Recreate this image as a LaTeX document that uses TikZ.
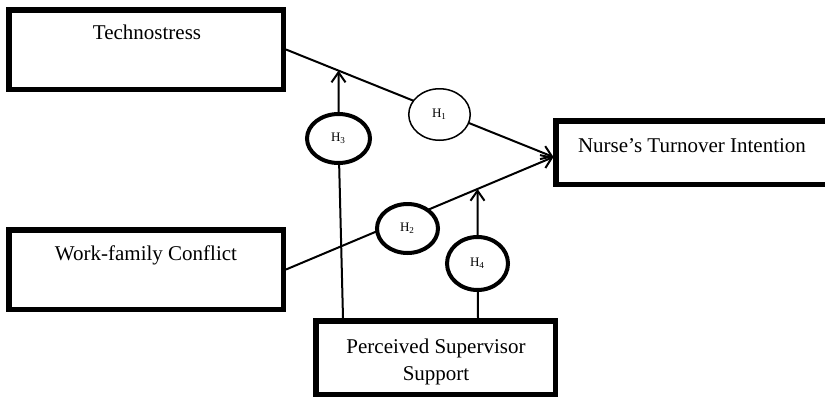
\documentclass[tikz,border=0pt]{standalone}
\usepackage{fontspec}
\setmainfont{Liberation Serif}
\usetikzlibrary{arrows.meta,shapes.geometric,backgrounds}
\begin{document}
\begin{tikzpicture}[x=0.5pt,y=-0.5pt,
  box/.style={draw,line width=2.75pt,rectangle,inner sep=0pt},
  lbl/.style={font=\fontsize{10.5}{13.5}\selectfont, anchor=base, inner sep=0pt},
  hyp/.style={draw,ellipse,fill=white,inner sep=0pt,line width=2pt,font=\fontsize{6.5}{7}\selectfont},
  conn/.style={line width=1pt},
  arr/.style={conn,-{Straight Barb[length=5pt,width=7pt]}}]
\useasboundingbox (0,0) rectangle (825,397);
\clip (0,0) rectangle (825,397);

% boxes
\node[box, minimum width=137.25pt, minimum height=39.75pt] (techno) at (146,49.5) {};
\node[box, minimum width=137.25pt, minimum height=39.75pt] (work) at (146,269.5) {};
\node[box, minimum width=137.25pt, minimum height=31.75pt] (nurse) at (693,152.5) {};
\node[box, minimum width=119.75pt, minimum height=36.75pt] (pss) at (435.5,357.5) {};

% box texts
\node[lbl] (ttech) at (147,39.3) {Technostress};
\node[lbl] (twork) at (146,260.7) {Work-family Conflict};
\node[lbl] (tnurse) at (692,152.7) {Nurse’s Turnover Intention};
\node[lbl] (tpss1) at (436,353) {Perceived Supervisor};
\node[lbl] (tpss2) at (436,380) {Support};

% hypothesis ellipses
\node[hyp, line width=0.75pt, minimum width=30.75pt, minimum height=25.75pt] (H1) at (439.5,114.5) {H\textsubscript{1}};
\node[hyp, minimum width=31.5pt, minimum height=24.5pt] (H3) at (338.5,138.5) {H\textsubscript{3}};
\node[hyp, minimum width=30.5pt, minimum height=24.5pt] (H2) at (407.5,228.5) {H\textsubscript{2}};
\node[hyp, minimum width=30.5pt, minimum height=26.5pt] (H4) at (477.5,263.5) {H\textsubscript{4}};

% helper coordinates
\coordinate (tip) at (553.5,157);
\coordinate (s3) at (343,318);
\coordinate (s4) at (478,318);
\coordinate (m1) at (intersection cs: first line={(techno.east)--(tip)}, second line={(H3.center)--(H3.north)});
\coordinate (m2) at (intersection cs: first line={(work.east)--(tip)}, second line={(H4.center)--(H4.north)});

\begin{scope}[on background layer]
\draw[arr] (techno.east) -- (tip);
\draw[arr] (work.east) -- (tip);
\draw[conn] (s3) -- (H3);
\draw[conn] (s4) -- (H4);
\end{scope}
\draw[arr] (H3) -- (m1);
\draw[arr] (H4) -- (m2);
\end{tikzpicture}
\end{document}
